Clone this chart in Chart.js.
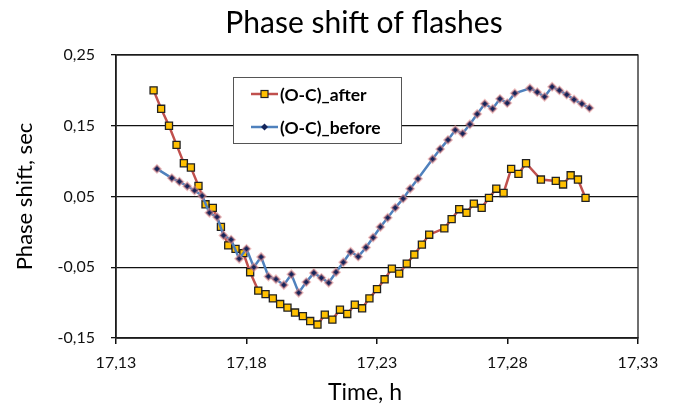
<!DOCTYPE html>
<html>
<head>
<meta charset="utf-8">
<script src="https://cdn.jsdelivr.net/npm/chart.js@4"></script>
<style>
  body { margin: 0; background: #fff; }
  #wrap { width: 677px; height: 408px; }
</style>
</head>
<body>
<div id="wrap"><canvas id="phaseChart" width="677" height="408"></canvas></div>
<script>
const chartTitle = "Phase shift of flashes";
const xTitle = "Time, h";
const yTitle = "Phase shift, sec";
const seriesNames = ["(O-C)_after", "(O-C)_before"];

const xTicks = [17.13, 17.18, 17.23, 17.28, 17.33];
const yTicks = [-0.15, -0.05, 0.05, 0.15, 0.25];

const afterX = [17.1444, 17.1473, 17.1503, 17.1532, 17.1560, 17.1587, 17.1616, 17.1643, 17.1671, 17.1702,
  17.1730, 17.1758, 17.1788, 17.1814, 17.1845, 17.1873, 17.1901, 17.1929, 17.1957, 17.1986,
  17.2016, 17.2044, 17.2072, 17.2100, 17.2129, 17.2158, 17.2186, 17.2215, 17.2243, 17.2271,
  17.2300, 17.2329, 17.2357, 17.2385, 17.2414, 17.2443, 17.2472, 17.2500, 17.2558, 17.2586,
  17.2615, 17.2643, 17.2671, 17.2701, 17.2729, 17.2757, 17.2785, 17.2814, 17.2842, 17.2871,
  17.2928, 17.2985, 17.3013, 17.3042, 17.3070, 17.3099];
const afterY = [0.200, 0.174, 0.150, 0.123, 0.097, 0.091, 0.065, 0.039, 0.034, 0.007,
  -0.019, -0.024, -0.030, -0.057, -0.083, -0.088, -0.094, -0.102, -0.107, -0.114,
  -0.119, -0.126, -0.131, -0.117, -0.124, -0.110, -0.116, -0.103, -0.108, -0.094,
  -0.081, -0.067, -0.052, -0.059, -0.045, -0.032, -0.018, -0.004, 0.005, 0.018,
  0.032, 0.027, 0.040, 0.034, 0.048, 0.061, 0.055, 0.089, 0.082, 0.097,
  0.074, 0.072, 0.067, 0.080, 0.074, 0.048];

const beforeX = [17.1457, 17.1514, 17.1543, 17.1573, 17.1601, 17.1630, 17.1658, 17.1687, 17.1712, 17.1741,
  17.1772, 17.1800, 17.1828, 17.1856, 17.1884, 17.1913, 17.1943, 17.1972, 17.2000, 17.2029,
  17.2058, 17.2087, 17.2115, 17.2143, 17.2171, 17.2199, 17.2228, 17.2258, 17.2285, 17.2313,
  17.2341, 17.2370, 17.2400, 17.2427, 17.2457, 17.2513, 17.2542, 17.2572, 17.2600, 17.2628,
  17.2656, 17.2684, 17.2713, 17.2743, 17.2771, 17.2799, 17.2828, 17.2886, 17.2914, 17.2942,
  17.2971, 17.2999, 17.3027, 17.3055, 17.3085, 17.3114];
const beforeY = [0.089, 0.076, 0.071, 0.0645, 0.0585, 0.051, 0.027, 0.021, -0.005, -0.011,
  -0.038, -0.024, -0.050, -0.0355, -0.063, -0.067, -0.075, -0.060, -0.086, -0.071,
  -0.058, -0.065, -0.072, -0.057, -0.043, -0.028, -0.035, -0.022, -0.008, 0.007,
  0.020, 0.034, 0.047, 0.061, 0.075, 0.103, 0.117, 0.130, 0.144, 0.139,
  0.152, 0.1665, 0.181, 0.174, 0.188, 0.182, 0.196, 0.203, 0.1975, 0.191,
  0.205, 0.200, 0.194, 0.187, 0.181, 0.175];

const RED = "rgb(192,80,77)";
const BLUE = "rgb(79,129,189)";
const GOLD = "#FFC000";
const NAVY = "#14245a";

function toPoints(xs, ys) {
  return xs.map((x, i) => ({ x: x, y: ys[i] }));
}
function fmt(v) {
  return v.toFixed(2).replace(".", ",");
}

// plot frame, titles and the boxed legend (Excel style)
const decor = {
  id: "decor",
  beforeDatasetsDraw(chart) {
    const { ctx, chartArea: a } = chart;
    ctx.save();
    ctx.strokeStyle = "#222";
    ctx.lineWidth = 1.3;
    ctx.strokeRect(a.left, a.top, a.right - a.left, a.bottom - a.top);
    ctx.restore();
  },
  afterDraw(chart) {
    const ctx = chart.ctx;
    ctx.save();
    ctx.fillStyle = "#000";
    ctx.textAlign = "center";
    ctx.textBaseline = "alphabetic";
    ctx.font = "30px Lato";
    ctx.fillText(chartTitle, 364, 33);
    ctx.font = "23px Lato";
    ctx.fillText(xTitle, 365, 400);

    // legend box
    ctx.fillStyle = "#fff";
    ctx.fillRect(233, 77, 168, 66);
    ctx.strokeStyle = "#555";
    ctx.lineWidth = 1;
    ctx.strokeRect(233.5, 77.5, 168, 66);

    const rows = [
      { y: 94, line: RED, name: seriesNames[0], mark: "square" },
      { y: 127, line: BLUE, name: seriesNames[1], mark: "diamond" }
    ];
    rows.forEach(r => {
      ctx.strokeStyle = r.line;
      ctx.lineWidth = 2.5;
      ctx.beginPath();
      ctx.moveTo(251, r.y);
      ctx.lineTo(278, r.y);
      ctx.stroke();
      if (r.mark === "square") {
        ctx.fillStyle = GOLD;
        ctx.fillRect(261, r.y - 3.5, 7, 7);
        ctx.strokeStyle = "#222";
        ctx.lineWidth = 1.2;
        ctx.strokeRect(261, r.y - 3.5, 7, 7);
      } else {
        ctx.fillStyle = NAVY;
        ctx.beginPath();
        ctx.moveTo(264.5, r.y - 3.5);
        ctx.lineTo(268, r.y);
        ctx.lineTo(264.5, r.y + 3.5);
        ctx.lineTo(261, r.y);
        ctx.closePath();
        ctx.fill();
      }
      ctx.fillStyle = "#000";
      ctx.textAlign = "left";
      ctx.textBaseline = "middle";
      ctx.font = "bold 17.5px Lato";
      ctx.fillText(r.name, 280, r.y + 1);
    });
    ctx.restore();
  }
};

const ctx = document.getElementById("phaseChart").getContext("2d");
new Chart(ctx, {
  type: "line",
  data: {
    datasets: [
      {
        label: seriesNames[0],
        data: toPoints(afterX, afterY),
        borderColor: RED,
        borderWidth: 2.5,
        pointStyle: "rect",
        pointRadius: 5,
        pointBackgroundColor: GOLD,
        pointBorderColor: "#222",
        pointBorderWidth: 1.3,
        tension: 0,
        fill: false,
        order: 1
      },
      {
        label: seriesNames[1],
        data: toPoints(beforeX, beforeY),
        borderColor: BLUE,
        borderWidth: 2.5,
        pointStyle: "rectRot",
        pointRadius: 3.8,
        pointBackgroundColor: NAVY,
        pointBorderColor: "rgba(225,140,140,0.55)",
        pointBorderWidth: 2,
        tension: 0,
        fill: false,
        order: 0
      }
    ]
  },
  options: {
    responsive: false,
    animation: false,
    devicePixelRatio: 1,
    layout: { padding: { top: 55, right: 39, left: 0, bottom: 0 } },
    plugins: {
      legend: { display: false },
      tooltip: { enabled: false }
    },
    scales: {
      x: {
        type: "linear",
        min: xTicks[0],
        max: xTicks[xTicks.length - 1],
        afterFit: s => { s.height = 70; },
        afterBuildTicks: s => { s.ticks = xTicks.map(v => ({ value: v })); },
        border: { color: "#111", width: 1.5 },
        grid: { drawOnChartArea: false, drawTicks: true, tickLength: 6, color: "#111", lineWidth: 1.5 },
        ticks: {
          padding: 9,
          color: "#111",
          font: { family: "Lato", size: 16 },
          maxRotation: 0,
          callback: v => fmt(v)
        }
      },
      y: {
        min: yTicks[0],
        max: yTicks[yTicks.length - 1],
        afterFit: s => { s.width = 116; },
        afterBuildTicks: s => { s.ticks = yTicks.map(v => ({ value: v })); },
        border: { color: "#111", width: 1.5 },
        grid: { color: "#111", lineWidth: 1.3, tickLength: 5 },
        ticks: {
          padding: 16,
          color: "#111",
          font: { family: "Lato", size: 16 },
          callback: v => fmt(v)
        },
        title: {
          display: true,
          text: yTitle,
          color: "#000",
          font: { family: "Lato", size: 22 },
          padding: { top: 12, bottom: 0 }
        }
      }
    }
  },
  plugins: [decor]
});
</script>
</body>
</html>
